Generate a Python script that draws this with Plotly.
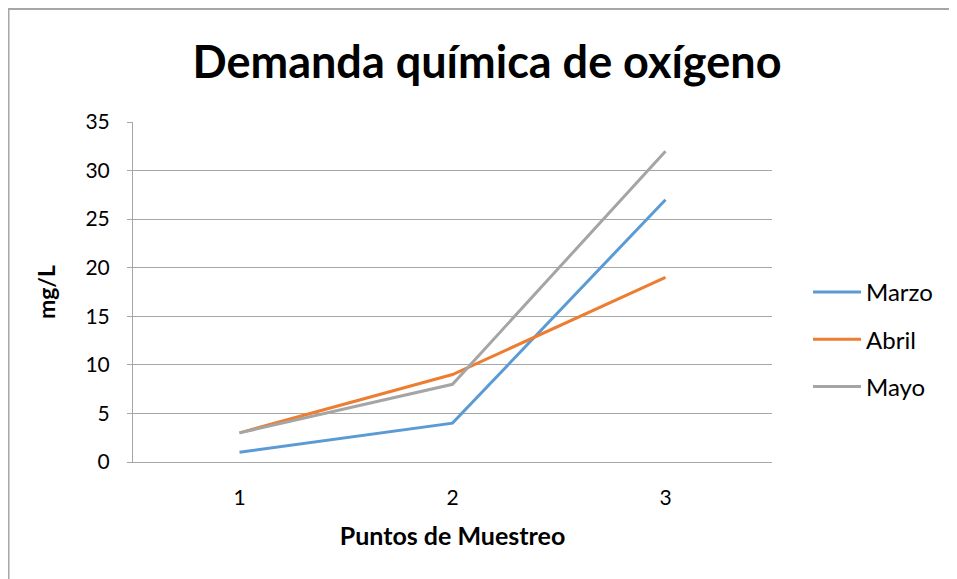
import plotly.graph_objects as go

# Sampling points and monthly COD values (mg/L)
puntos = [1, 2, 3]
marzo = [1, 4, 27]
abril = [3, 9, 19]
mayo = [3, 8, 32]

series = [("Marzo", marzo, "#5B9BD5"), ("Abril", abril, "#ED7D31"), ("Mayo", mayo, "#A5A5A5")]

FONT = "Lato"

fig = go.Figure()
for i, (name, vals, color) in enumerate(series):
    fig.add_trace(go.Scatter(x=puntos, y=vals, name=name, mode="lines",
                             line=dict(color=color, width=3),
                             legendgroup=str(i)))

# page body has an 8px margin, so the figure is drawn from (8, 8)
W, H = 949, 571
L, R, T, B = 125, 185, 114, 117
pw, ph = W - L - R, H - T - B

fig.update_layout(
    width=W, height=H,
    margin=dict(l=L, r=R, t=T, b=B),
    paper_bgcolor="white", plot_bgcolor="white",
    font=dict(family=FONT, color="#000000", size=21),
    title=dict(text="<b>Demanda química de oxígeno</b>",
               x=479 / W, xanchor="center", y=1 - 54 / H, yanchor="middle",
               font=dict(size=45, family=FONT)),
    xaxis=dict(range=[0.5, 3.5], tickvals=puntos, showgrid=False,
               showline=True, linecolor="#A6A6A6", linewidth=1,
               ticks="", ticklabelstandoff=17,
               tickfont=dict(size=21),
               title=dict(text="<b>Puntos de Muestreo</b>", font=dict(size=25), standoff=19)),
    yaxis=dict(range=[0, 35], dtick=5, showgrid=True, gridcolor="#A6A6A6", gridwidth=1,
               showline=True, linecolor="#A6A6A6", linewidth=1,
               ticks="outside", ticklen=5, tickcolor="#A6A6A6",
               ticklabelstandoff=13, tickfont=dict(size=21), zeroline=False,
               title=dict(text="<b>mg/L</b>", font=dict(size=23), standoff=23)),
    legend=dict(x=(800 - L) / pw, xanchor="left", y=(454 - 262) / ph, yanchor="top",
                font=dict(size=24), tracegroupgap=13, itemwidth=48,
                bgcolor="rgba(0,0,0,0)"),
    shapes=[dict(type="rect", xref="paper", yref="paper",
                 x0=(0.5 - L) / pw, x1=2.0, y0=-2.0, y1=(454 - 1) / ph,
                 line=dict(color="#A6A6A6", width=2), fillcolor="rgba(0,0,0,0)", layer="below")],
)

fig.write_html("out.html")
